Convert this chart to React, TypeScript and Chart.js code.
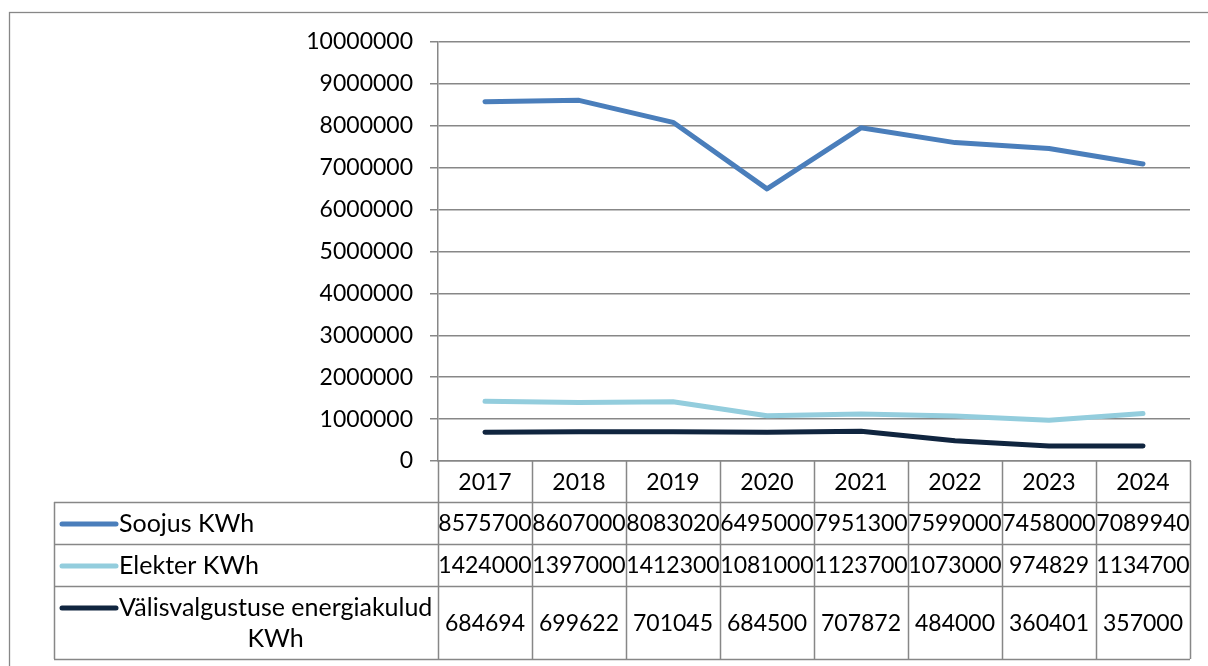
import React, { useEffect, useRef } from "react";
import { Chart, registerables } from "chart.js";

Chart.register(...registerables);

const categories = ["2017", "2018", "2019", "2020", "2021", "2022", "2023", "2024"];
const soojus = [8575700, 8607000, 8083020, 6495000, 7951300, 7599000, 7458000, 7089940];
const elekter = [1424000, 1397000, 1412300, 1081000, 1123700, 1073000, 974829, 1134700];
const valis = [684694, 699622, 701045, 684500, 707872, 484000, 360401, 357000];
const seriesNames = ["Soojus KWh", "Elekter KWh", "Välisvalgustuse energiakulud KWh"];
const seriesLabelLines = [["Soojus KWh"], ["Elekter KWh"], ["Välisvalgustuse energiakulud", "KWh"]];
const seriesColors = ["#4A7EBB", "#93CDDD", "#10253F"];
const yMin = 0;
const yMax = 10000000;
const yStep = 1000000;

const GRID = "#878787";
const FONT = "Lato, 'Open Sans', sans-serif";
const FS = 23;
const LABEL_FS = 25;

const frameAndTable = {
  id: "frameAndTable",
  beforeDraw(chart: any) {
    const ctx = chart.ctx;
    ctx.save();
    ctx.fillStyle = "#ffffff";
    ctx.fillRect(0, 0, chart.width, chart.height);
    ctx.strokeStyle = GRID;
    ctx.lineWidth = 1.3;
    ctx.strokeRect(9.5, 12.5, 1400, 900);
    ctx.restore();
  },
  afterDraw(chart: any) {
    const ctx = chart.ctx;
    const area = chart.chartArea;
    const n = categories.length;
    const colW = (area.right - area.left) / n;
    const tableLeft = 54;
    const headerTop = area.bottom;
    const headerBottom = 502;
    const rowEdges = [502, 544, 586, 659];
    const datasets = [soojus, elekter, valis];
    ctx.save();
    ctx.strokeStyle = GRID;
    ctx.lineWidth = 1.5;
    ctx.beginPath();
    for (let i = 0; i <= n; i++) {
      const x = Math.round(area.left + i * colW) + 0.5;
      ctx.moveTo(x, headerTop);
      ctx.lineTo(x, rowEdges[rowEdges.length - 1]);
    }
    for (const y of rowEdges) {
      ctx.moveTo(tableLeft, y + 0.5);
      ctx.lineTo(area.right, y + 0.5);
    }
    ctx.moveTo(tableLeft + 0.5, rowEdges[0]);
    ctx.lineTo(tableLeft + 0.5, rowEdges[rowEdges.length - 1]);
    ctx.stroke();

    ctx.fillStyle = "#000";
    ctx.font = `${FS}px ${FONT}`;
    ctx.textAlign = "center";
    ctx.textBaseline = "middle";
    categories.forEach((c, i) => {
      ctx.fillText(c, chart.scales.x.getPixelForValue(i), (headerTop + headerBottom) / 2 + 1);
    });
    datasets.forEach((vals, r) => {
      const yc = (rowEdges[r] + rowEdges[r + 1]) / 2 + 1;
      ctx.font = `${FS}px ${FONT}`;
      ctx.textAlign = "center";
      ctx.fillStyle = "#000";
      vals.forEach((v, i) => {
        ctx.fillText(String(v), chart.scales.x.getPixelForValue(i), yc);
      });
      const lines = seriesLabelLines[r];
      const lineH = 31;
      const firstY = yc - ((lines.length - 1) * lineH) / 2;
      ctx.strokeStyle = seriesColors[r];
      ctx.lineWidth = 5;
      ctx.lineCap = "round";
      ctx.beginPath();
      ctx.moveTo(62, firstY);
      ctx.lineTo(116, firstY);
      ctx.stroke();
      ctx.font = `${LABEL_FS}px ${FONT}`;
      ctx.fillStyle = "#000";
      ctx.textAlign = "left";
      const w0 = ctx.measureText(lines[0]).width;
      ctx.fillText(lines[0], 119, firstY);
      ctx.textAlign = "center";
      for (let k = 1; k < lines.length; k++) {
        ctx.fillText(lines[k], 119 + w0 / 2, firstY + k * lineH);
      }
    });
    ctx.restore();
  },
};

export default function App() {
  const ref = useRef<HTMLCanvasElement | null>(null);
  useEffect(() => {
    document.body.style.margin = "0";
    const canvas = ref.current!;
    const chart = new Chart(canvas, {
      type: "line",
      data: {
        labels: categories,
        datasets: [soojus, elekter, valis].map((d, i) => ({
          label: seriesNames[i],
          data: d,
          borderColor: seriesColors[i],
          backgroundColor: seriesColors[i],
          borderWidth: 5,
          borderCapStyle: "round" as const,
          borderJoinStyle: "round" as const,
          pointRadius: 0,
          tension: 0,
        })),
      },
      options: {
        responsive: false,
        animation: false,
        layout: { padding: { top: 42, right: 18, left: 0, bottom: 0 } },
        plugins: { legend: { display: false }, tooltip: { enabled: false } },
        scales: {
          x: {
            offset: true,
            grid: { display: false },
            ticks: { display: false },
            border: { display: true, color: GRID, width: 1.5 },
            afterFit: (s: any) => {
              s.height = 666 - 461;
            },
          },
          y: {
            min: yMin,
            max: yMax,
            ticks: {
              stepSize: yStep,
              padding: 17,
              color: "#000",
              font: { family: FONT, size: FS },
              callback: (v: any) => String(v),
            },
            grid: { color: GRID, lineWidth: 1.5, tickLength: 8, drawTicks: true },
            border: { display: true, color: GRID, width: 1.5 },
            afterFit: (s: any) => {
              s.width = 438;
            },
          },
        },
      },
      plugins: [frameAndTable],
    });
    return () => chart.destroy();
  }, []);
  return <canvas ref={ref} width={1208} height={666} style={{ display: "block", width: 1208, height: 666 }} />;
}
